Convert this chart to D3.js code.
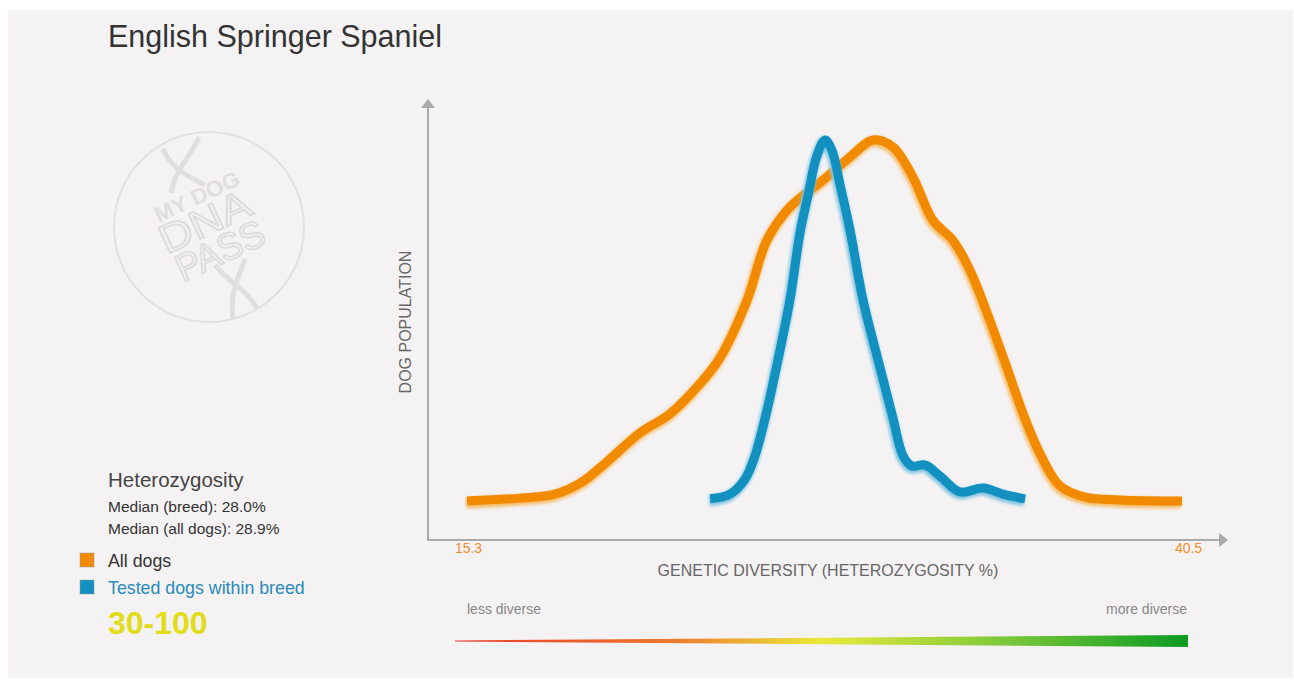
<!DOCTYPE html>
<html>
<head>
<meta charset="utf-8">
<script src="https://cdn.jsdelivr.net/npm/d3@7"></script>
<style>
  body { margin: 0; background: #fff; font-family: "Liberation Sans", Arial, sans-serif; }
</style>
</head>
<body>
<svg id="chart"></svg>
<script>
// heterozygosity % values, population on a 0-100 relative scale
const allDogsX = [15.3, 17.17, 18.4, 19.3, 19.99, 21.4, 22.46, 23.51, 24.22, 25.17, 25.87, 26.68, 27.85, 28.8, 29.61, 30.31, 31.02, 31.72, 32.43, 33.03, 33.73, 34.33, 34.9, 35.5, 36.2, 37.08, 38.31, 40.5];
const allDogsY = [0, 0.8, 1.9, 5.0, 9.2, 18.9, 24.2, 32.5, 39.7, 55.6, 72.2, 81.4, 88.9, 95.3, 100, 98.1, 89.7, 77.8, 72.2, 63.9, 50, 36.9, 24.2, 13.1, 4.2, 1.1, 0.3, 0];
const breedX = [23.87, 24.57, 25.1, 25.45, 25.87, 26.33, 26.68, 27.04, 27.32, 27.64, 27.92, 28.16, 28.45, 28.8, 29.26, 29.86, 30.31, 30.67, 30.98, 31.44, 31.97, 32.68, 33.49, 34.19, 34.97];
const breedY = [0.6, 1.9, 6.1, 12.5, 25, 41.7, 55.6, 74.4, 84.7, 95.8, 100, 97.2, 87.5, 75, 55.6, 36.9, 23.1, 12.5, 9.7, 10, 6.9, 2.5, 3.6, 1.9, 0.6];
const xTicks = [15.3, 40.5];
const medianBreed = 28.0;
const medianAll = 28.9;
const breedCount = "30-100";

const W = 1294, H = 685;
const svg = d3.select('#chart').attr('width', W).attr('height', H);

const defs = svg.append('defs');
defs.append('filter').attr('id', 'soft')
  .append('feGaussianBlur').attr('stdDeviation', 1.6);

const grad = defs.append('linearGradient').attr('id', 'div-grad')
  .attr('x1', '0%').attr('x2', '100%');
[[0, '#e8392b'], [0.3, '#ee7a2c'], [0.5, '#e9ea3a'], [0.75, '#7cc83a'], [1, '#0b9a22']]
  .forEach(s => grad.append('stop').attr('offset', s[0]).attr('stop-color', s[1]));

// panel
svg.append('rect').attr('x', 8).attr('y', 10).attr('width', 1285).attr('height', 668).attr('fill', '#f4f2f3');

svg.append('text').attr('x', 108).attr('y', 47)
  .attr('font-size', 30.5).attr('fill', '#333')
  .text('English Springer Spaniel');

// logo watermark
const logo = svg.append('g').attr('transform', 'translate(209,227)');
logo.append('circle').attr('r', 95).attr('fill', 'none').attr('stroke', '#e2e0e1').attr('stroke-width', 2);
logo.append('path').attr('d', 'M-46,-78 C-38,-58 -20,-50 -4,-42 M-10,-90 C-18,-70 -34,-58 -38,-34')
  .attr('fill', 'none').attr('stroke', '#e0dedf').attr('stroke-width', 5);
logo.append('path').attr('d', 'M6,38 C20,56 40,64 48,82 M36,32 C30,50 20,66 24,92')
  .attr('fill', 'none').attr('stroke', '#e0dedf').attr('stroke-width', 5);
const lt = logo.append('g').attr('transform', 'rotate(-25) translate(2,4)').attr('fill', '#e0dedf');
lt.append('text').attr('x', -46).attr('y', -29).attr('font-size', 22).attr('font-weight', 'bold')
  .attr('textLength', 92).attr('lengthAdjust', 'spacingAndGlyphs').text('MY DOG');
lt.append('text').attr('x', -52).attr('y', 3).attr('font-size', 40).attr('fill', 'none')
  .attr('stroke', '#dcdadb').attr('stroke-width', 1.6)
  .attr('textLength', 97).attr('lengthAdjust', 'spacingAndGlyphs').text('DNA');
lt.append('text').attr('x', -49).attr('y', 35).attr('font-size', 38).attr('fill', 'none')
  .attr('stroke', '#dcdadb').attr('stroke-width', 1.6)
  .attr('textLength', 94).attr('lengthAdjust', 'spacingAndGlyphs').text('PASS');

// scales
const x = d3.scaleLinear().domain([15.3, 40.5]).range([467, 1182]);
const y = d3.scaleLinear().domain([0, 100]).range([501, 140]);
const axisX0 = 428, axisY0 = 540;

// axes
svg.append('line').attr('x1', axisX0).attr('x2', axisX0).attr('y1', axisY0).attr('y2', 106)
  .attr('stroke', '#a9a9a9').attr('stroke-width', 2);
svg.append('path').attr('d', `M${axisX0 - 7},108 L${axisX0},99 L${axisX0 + 7},108 Z`).attr('fill', '#a9a9a9');
svg.append('line').attr('x1', axisX0 - 1).attr('x2', 1220).attr('y1', axisY0).attr('y2', axisY0)
  .attr('stroke', '#a9a9a9').attr('stroke-width', 2);
svg.append('path').attr('d', `M1219,${axisY0 - 7} L1228,${axisY0} L1219,${axisY0 + 7} Z`).attr('fill', '#a9a9a9');

const xAxis = svg.append('g').attr('transform', `translate(0,${axisY0})`)
  .call(d3.axisBottom(x).tickValues(xTicks).tickSize(0).tickPadding(3).tickFormat(d3.format('.1f')));
xAxis.select('.domain').remove();
xAxis.selectAll('text').attr('fill', '#f0902a').attr('font-size', 14)
  .attr('font-family', '"Liberation Sans", Arial, sans-serif')
  .attr('dx', (d, i) => i === xTicks.length - 1 ? 6 : 1);

svg.append('text').attr('transform', 'translate(411,322) rotate(-90)')
  .attr('text-anchor', 'middle').attr('font-size', 16).attr('fill', '#666')
  .text('DOG POPULATION');
svg.append('text').attr('x', 828).attr('y', 576)
  .attr('text-anchor', 'middle').attr('font-size', 16).attr('fill', '#666')
  .text('GENETIC DIVERSITY (HETEROZYGOSITY %)');

// curves
const line = d3.line().x(d => x(d[0])).y(d => y(d[1])).curve(d3.curveCatmullRom.alpha(0.5));
function drawCurve(xs, ys, color, glow) {
  const pts = xs.map((v, i) => [v, ys[i]]);
  svg.append('path').datum(pts).attr('d', line)
    .attr('transform', 'translate(-1,2)')
    .attr('fill', 'none').attr('stroke', glow).attr('stroke-width', 11)
    .attr('stroke-linejoin', 'round').attr('filter', 'url(#soft)');
  svg.append('path').datum(pts).attr('d', line)
    .attr('fill', 'none').attr('stroke', color).attr('stroke-width', 9)
    .attr('stroke-linejoin', 'round');
}
drawCurve(allDogsX, allDogsY, '#f28a00', '#f6c070');
drawCurve(breedX, breedY, '#1290bf', '#86c6e0');

// diversity bar
svg.append('text').attr('x', 467).attr('y', 614).attr('font-size', 14).attr('fill', '#888').text('less diverse');
svg.append('text').attr('x', 1187).attr('y', 614).attr('text-anchor', 'end').attr('font-size', 14).attr('fill', '#888').text('more diverse');
svg.append('path').attr('d', 'M455,640.5 L1188,635 L1188,647 L455,641.5 Z').attr('fill', 'url(#div-grad)');

// legend block
svg.append('text').attr('x', 108).attr('y', 487).attr('font-size', 20.5).attr('fill', '#444').text('Heterozygosity');
svg.append('text').attr('x', 108).attr('y', 512).attr('font-size', 15.5).attr('fill', '#333')
  .text(`Median (breed): ${medianBreed.toFixed(1)}%`);
svg.append('text').attr('x', 108).attr('y', 534).attr('font-size', 15.5).attr('fill', '#333')
  .text(`Median (all dogs): ${medianAll.toFixed(1)}%`);

const legend = [
  { label: 'All dogs', color: '#f28a00', text: '#333' },
  { label: 'Tested dogs within breed', color: '#1290bf', text: '#2a8ab8' }
];
const lg = svg.append('g').selectAll('g').data(legend).enter().append('g')
  .attr('transform', (d, i) => `translate(80,${553 + i * 27})`);
lg.append('rect').attr('width', 14).attr('height', 14).attr('fill', d => d.color)
  .attr('stroke', '#999').attr('stroke-width', 0.5);
lg.append('text').attr('x', 28).attr('y', 14).attr('font-size', 17.8).attr('fill', d => d.text).text(d => d.label);

svg.append('text').attr('x', 108).attr('y', 634).attr('font-size', 32).attr('font-weight', 'bold')
  .attr('fill', '#e3dc18').text(breedCount);
</script>
</body>
</html>
